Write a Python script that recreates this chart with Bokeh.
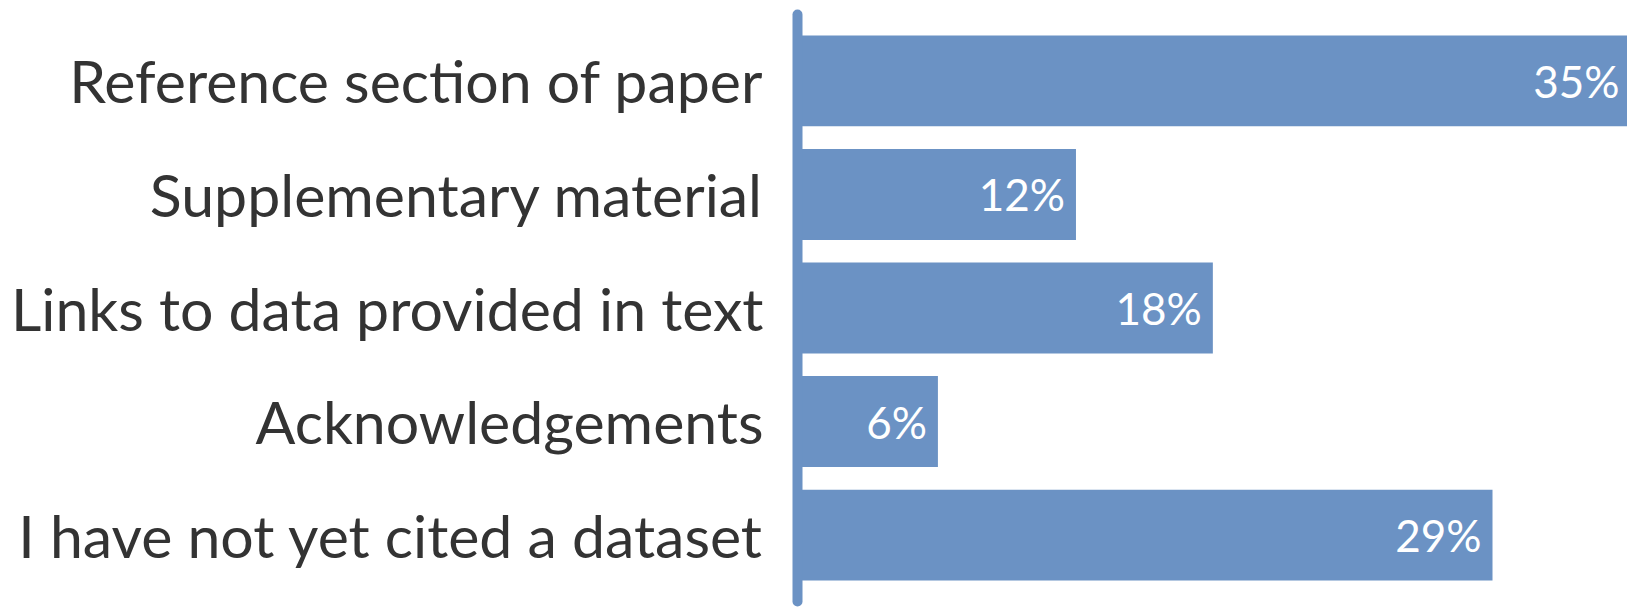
from bokeh.plotting import figure
from bokeh.models import ColumnDataSource, FactorRange, Range1d
from bokeh.core.properties import value
from bokeh.embed import file_html
from bokeh.resources import INLINE

categories = [
    "Reference section of paper",
    "Supplementary material",
    "Links to data provided in text",
    "Acknowledgements",
    "I have not yet cited a dataset",
]
percent = [35.3, 11.8, 17.6, 5.95, 29.45]
percent_labels = ["35%", "12%", "18%", "6%", "29%"]

BAR = "#6b92c4"
FONT = "Lato"

source = ColumnDataSource(dict(cat=categories, pct=percent, lab=percent_labels))

p = figure(
    width=1627, height=607,
    y_range=FactorRange(factors=list(reversed(categories)),
                        range_padding=0.085, range_padding_units="absolute"),
    x_range=Range1d(0, 35.17),
    output_backend="svg", toolbar_location=None,
    min_border_left=797, min_border_right=0,
    min_border_top=14, min_border_bottom=6,
)

p.hbar(y="cat", right="pct", left=0, height=0.8, source=source,
       fill_color=BAR, line_color=None)

p.text(x="pct", y="cat", text="lab", source=source,
       text_align="right", text_baseline="middle", x_offset=-11,
       text_color="white", text_font=value(FONT), text_font_size="44px")

p.xaxis.visible = False
p.xgrid.grid_line_color = None
p.ygrid.grid_line_color = None
p.outline_line_color = None

ya = p.yaxis[0]
ya.axis_line_color = BAR
ya.axis_line_width = 10
ya.axis_line_cap = "round"
ya.major_tick_line_color = None
ya.minor_tick_line_color = None
ya.major_tick_out = 0
ya.major_tick_in = 0
ya.major_label_standoff = 34
ya.major_label_text_font = FONT
ya.major_label_text_font_size = "59px"
ya.major_label_text_color = "#333333"

open("out.html", "w").write(file_html(p, INLINE))
